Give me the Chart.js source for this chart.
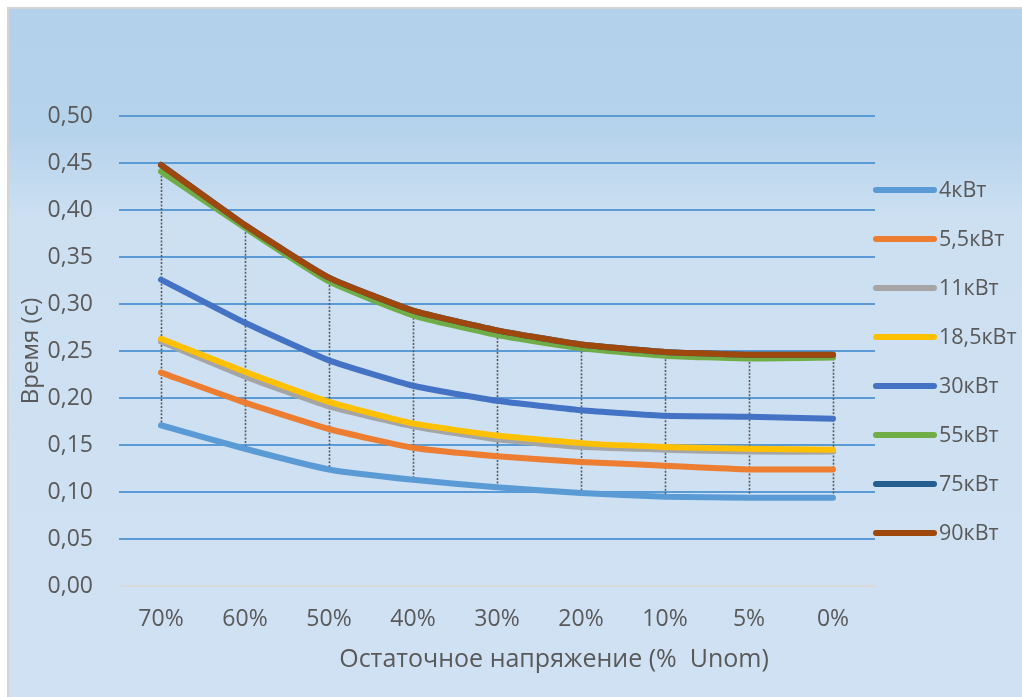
<!DOCTYPE html>
<html>
<head>
<meta charset="utf-8">
<script src="https://cdn.jsdelivr.net/npm/chart.js@4/dist/chart.umd.min.js"></script>
<style>
  html, body { margin: 0; padding: 0; background: #ffffff; }
  #wrap { width: 1022px; height: 697px; position: relative; }
</style>
</head>
<body>
<div id="wrap"><canvas id="c" width="1022" height="697"></canvas></div>
<script>
// Остаточное напряжение, % от Unom
const categories = ['70%', '60%', '50%', '40%', '30%', '20%', '10%', '5%', '0%'];

// Время (с) для каждой мощности двигателя
const kw4   = [0.171, 0.146, 0.124, 0.113, 0.105, 0.099, 0.095, 0.094, 0.094];
const kw5_5 = [0.227, 0.195, 0.167, 0.147, 0.138, 0.132, 0.128, 0.124, 0.124];
const kw11  = [0.260, 0.223, 0.191, 0.170, 0.156, 0.148, 0.145, 0.143, 0.143];
const kw18_5= [0.263, 0.228, 0.196, 0.173, 0.160, 0.152, 0.148, 0.146, 0.145];
const kw30  = [0.326, 0.280, 0.240, 0.213, 0.197, 0.187, 0.181, 0.180, 0.178];
const kw55  = [0.441, 0.381, 0.324, 0.288, 0.267, 0.253, 0.245, 0.242, 0.243];
const kw75  = [0.448, 0.384, 0.328, 0.293, 0.272, 0.257, 0.249, 0.246, 0.246];
const kw90  = [0.448, 0.384, 0.328, 0.293, 0.272, 0.257, 0.249, 0.246, 0.246];

const seriesNames  = ['4кВт', '5,5кВт', '11кВт', '18,5кВт', '30кВт', '55кВт', '75кВт', '90кВт'];
const seriesValues = [kw4, kw5_5, kw11, kw18_5, kw30, kw55, kw75, kw90];
const seriesColors = ['#5B9BD5', '#ED7D31', '#A5A5A5', '#FFC000', '#4472C4', '#70AD47', '#255E91', '#9E480E'];

const yTicksMin = 0, yTicksMax = 0.5, yStep = 0.05;
const yTitle = 'Время (с)';
const xTitle = 'Остаточное напряжение (%  Unom)';

const FONT = '"Open Sans", "DejaVu Sans", sans-serif';
const TEXT = '#595959';

// frame + gradient fill behind the chart
const framePlugin = {
  id: 'frame',
  beforeDraw(chart) {
    const ctx = chart.ctx;
    const W = chart.width, H = chart.height;
    ctx.save();
    ctx.fillStyle = '#ffffff';
    ctx.fillRect(0, 0, W, H);
    const g = ctx.createLinearGradient(0, 8, 0, H);
    g.addColorStop(0, '#b4d1eb');
    g.addColorStop(0.18, '#b6d3ec');
    g.addColorStop(0.31, '#cde0f2');
    g.addColorStop(1, '#cfe1f2');
    ctx.fillStyle = g;
    ctx.fillRect(8, 8, W, H);
    ctx.strokeStyle = '#d4d4d4';
    ctx.lineWidth = 2;
    ctx.strokeRect(8, 8, W + 10, H + 10);
    ctx.restore();
  }
};

// vertical dotted lines from the highest to the lowest series at each category
const dropLinesPlugin = {
  id: 'dropLines',
  beforeDatasetsDraw(chart) {
    const ctx = chart.ctx;
    const xs = chart.scales.x, ys = chart.scales.y;
    ctx.save();
    ctx.strokeStyle = '#5a5a5a';
    ctx.lineWidth = 1.6;
    ctx.setLineDash([2, 1.6]);
    categories.forEach((c, i) => {
      const vals = seriesValues.map(s => s[i]);
      const hi = Math.max(...vals), lo = Math.min(...vals);
      const x = Math.round(xs.getPixelForValue(i)) + 0.5;
      ctx.beginPath();
      ctx.moveTo(x, ys.getPixelForValue(hi));
      ctx.lineTo(x, ys.getPixelForValue(lo));
      ctx.stroke();
    });
    ctx.restore();
  }
};

// legend on the right + horizontal axis caption
const sideLegendPlugin = {
  id: 'sideLegend',
  afterDraw(chart) {
    const ctx = chart.ctx;
    const a = chart.chartArea;
    ctx.save();
    ctx.font = '21.5px ' + FONT;
    ctx.textBaseline = 'middle';
    ctx.textAlign = 'left';
    seriesNames.forEach((name, i) => {
      const y = a.top + 74 + i * 49;
      ctx.strokeStyle = seriesColors[i];
      ctx.lineWidth = 6;
      ctx.lineCap = 'round';
      ctx.beginPath();
      ctx.moveTo(a.right + 1, y);
      ctx.lineTo(a.right + 59, y);
      ctx.stroke();
      ctx.fillStyle = TEXT;
      ctx.fillText(name, a.right + 64, y + 1);
    });
    ctx.font = '25px ' + FONT;
    ctx.textAlign = 'center';
    ctx.fillText(xTitle, 554, 660);
    ctx.restore();
  }
};

const n = seriesNames.length;
const datasets = seriesNames.map((name, i) => ({
  label: name,
  data: seriesValues[i],
  borderColor: seriesColors[i],
  backgroundColor: seriesColors[i],
  borderWidth: 6,
  borderCapStyle: 'round',
  borderJoinStyle: 'round',
  pointRadius: 0,
  pointHoverRadius: 0,
  tension: 0.15,
  fill: false,
  order: n - i
}));

new Chart(document.getElementById('c'), {
  type: 'line',
  data: { labels: categories, datasets },
  plugins: [framePlugin, dropLinesPlugin, sideLegendPlugin],
  options: {
    responsive: false,
    animation: false,
    devicePixelRatio: 1,
    layout: { padding: { left: 0, right: 147, top: 116, bottom: 0 } },
    plugins: { legend: { display: false }, tooltip: { enabled: false } },
    scales: {
      x: {
        offset: true,
        grid: { display: false, drawTicks: false },
        border: { display: false },
        ticks: { color: TEXT, font: { family: FONT, size: 23 }, padding: 20, maxRotation: 0 },
        afterFit(scale) { scale.height = 111; }
      },
      y: {
        min: yTicksMin,
        max: yTicksMax,
        grid: {
          drawTicks: false,
          lineWidth: 2,
          color: ctx => (ctx.tick && ctx.tick.value === 0 ? '#d9d9d9' : '#5B9BD5')
        },
        border: { display: false },
        ticks: {
          stepSize: yStep,
          color: TEXT,
          padding: 26,
          font: { family: FONT, size: 23 },
          callback: v => Number(v).toFixed(2).replace('.', ',')
        },
        title: {
          display: true,
          text: yTitle,
          color: TEXT,
          font: { family: FONT, size: 24 },
          padding: { top: 17, bottom: 0 }
        },
        afterFit(scale) { scale.width = 119; }
      }
    }
  }
});
</script>
</body>
</html>
